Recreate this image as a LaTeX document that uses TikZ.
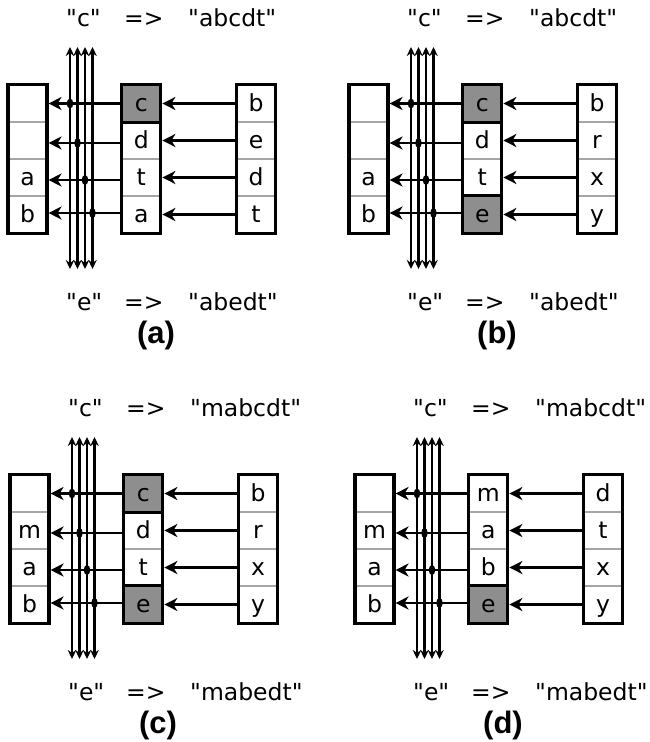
\documentclass[tikz,border=0pt]{standalone}
\usepackage{fontspec}
\newfontfamily\dvfont{DejaVu Sans}
\newfontfamily\lblfont{Liberation Sans}
\usetikzlibrary{arrows.meta,calc,backgrounds,shapes.geometric}
\definecolor{sepgray}{RGB}{165,165,165}
\definecolor{cellgray}{RGB}{142,142,142}
\tikzset{
  cell/.style={minimum width=38.5pt,minimum height=37pt,inner sep=0pt,
    text height=15pt,text depth=0pt,font=\dvfont\fontsize{23.5}{23.5}\selectfont},
  boxline/.style={line width=3.2pt,black},
  sepline/.style={line width=2pt,sepgray},
  graycell/.style={fill=cellgray},
  harrow/.style={line width=2.6pt,-{Stealth[length=13pt,width=13pt,inset=4pt]}},
  vline/.style={line width=2.3pt,{Stealth[length=9pt,width=8.5pt]}-{Stealth[length=9pt,width=8.5pt]}},
  crossdot/.style={fill=black,ellipse,inner sep=0pt,minimum width=6.5pt,minimum height=10pt},
  eqtext/.style={anchor=base west,inner sep=0pt,font=\dvfont\fontsize{23.5}{23.5}\selectfont},
  lbl/.style={anchor=base,inner sep=0pt,font=\lblfont\bfseries\fontsize{31}{31}\selectfont}
}
% #1 prefix, #2 shift, #3 left, #4 middle, #5 right, #6 gray cells, #7 top, #8 bottom, #9 label
\newcommand\mypanel[9]{%
\begin{scope}[shift={#2}]
  \foreach \t [count=\i] in {#3} \node[cell] (#1L\i) at (27.5,{66.5+37*\i}) {\t};
  \foreach \t [count=\i] in {#4} \node[cell] (#1M\i) at (141.3,{66.5+37*\i}) {\t};
  \foreach \t [count=\i] in {#5} \node[cell] (#1R\i) at (256,{66.5+37*\i}) {\t};
  \begin{scope}[on background layer]
    \foreach \g in {#6} \fill[graycell] (#1M\g.north west) rectangle (#1M\g.south east);
    \foreach \i in {1,2,3} {
      \draw[sepline] (#1L\i.south west) -- (#1L\i.south east);
      \draw[sepline] (#1M\i.south west) -- (#1M\i.south east);
      \draw[sepline] (#1R\i.south west) -- (#1R\i.south east);
    }
  \end{scope}
  \draw[boxline] (#1L1.north west) rectangle (#1L4.south east);
  \draw[boxline] (#1M1.north west) rectangle (#1M4.south east);
  \draw[boxline] (#1R1.north west) rectangle (#1R4.south east);
  \foreach \g in {#6} \draw[boxline] (#1M\g.north west) rectangle (#1M\g.south east);
  \foreach \k/\x in {1/70,2/77.5,3/85,4/92.5} {
    \coordinate (#1v\k t) at (\x,47);
    \coordinate (#1v\k b) at (\x,269);
    \draw[vline] (#1v\k b) -- (#1v\k t);
  }
  \foreach \i/\s in {1/0,2/-2.5,3/-2.5,4/1.5} {
    \coordinate (#1a\i) at ([yshift=\s pt]#1M\i.west);
    \coordinate (#1b\i) at ([yshift=\s pt]#1L\i.east);
    \draw[harrow,shorten >=1.6pt] (#1a\i) -- (#1b\i);
    \node[crossdot] (#1d\i) at (#1v\i t |- #1a\i) {};
    \draw[harrow,shorten >=1.6pt] (#1R\i.west) -- (#1M\i.east);
  }
  \node[eqtext] (#1t1) at (66,26) {"c"};
  \node[eqtext] (#1t2) at (124,26) {=>};
  \node[eqtext] (#1t3) at (188,26) {"#7"};
  \node[eqtext] (#1b1) at (66,310) {"e"};
  \node[eqtext] (#1b2) at (124,310) {=>};
  \node[eqtext] (#1b3) at (188,310) {"#8"};
  \node[lbl] (#1lbl) at (156,343) {(#9)};
\end{scope}}
\begin{document}
\begin{tikzpicture}[x=1pt,y=-1pt]
\useasboundingbox (0,0) rectangle (649,742);
\mypanel{a}{(0,0)}{{},{},a,b}{c,d,t,a}{b,e,d,t}{1}{abcdt}{abedt}{a}
\mypanel{b}{(341,0)}{{},{},a,b}{c,d,t,e}{b,r,x,y}{1,4}{abcdt}{abedt}{b}
\mypanel{c}{(2,390)}{{},m,a,b}{c,d,t,e}{b,r,x,y}{1,4}{mabcdt}{mabedt}{c}
\mypanel{d}{(347,390)}{{},m,a,b}{m,a,b,e}{d,t,x,y}{4}{mabcdt}{mabedt}{d}
\end{tikzpicture}
\end{document}
